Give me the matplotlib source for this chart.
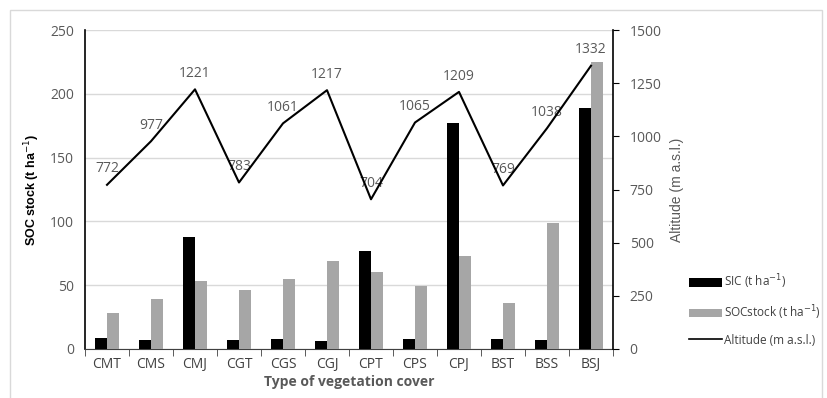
import numpy as np
import matplotlib
matplotlib.use("Agg")
import matplotlib.pyplot as plt
from matplotlib.patches import Rectangle, Patch
from matplotlib.lines import Line2D

# Data
covers = ["CMT", "CMS", "CMJ", "CGT", "CGS", "CGJ", "CPT", "CPS", "CPJ", "BST", "BSS", "BSJ"]
sic = [9, 7, 88, 7, 8, 6, 77, 8, 177, 8, 7, 189]
soc = [28, 39, 53, 46, 55, 69, 60, 49, 73, 36, 99, 225]
altitude = [772, 977, 1221, 783, 1061, 1217, 704, 1065, 1209, 769, 1038, 1332]

left_ticks = [0, 50, 100, 150, 200, 250]
right_ticks = [0, 250, 500, 750, 1000, 1250, 1500]

GRAY_TXT = "#595959"

plt.rcParams["font.family"] = ["Open Sans", "DejaVu Sans"]

fig = plt.figure(figsize=(8.28, 3.98), dpi=100)
# light frame round the chart area
fig.patches.append(Rectangle((10 / 828, -0.01), 812 / 828, 1 - 10 / 398 + 0.01,
                             transform=fig.transFigure, fill=False,
                             edgecolor="#d9d9d9", linewidth=1))

ax = fig.add_axes([85 / 828, 1 - 349 / 398, (613 - 85) / 828, (349 - 30) / 398])
x = np.arange(len(covers))
w = 0.27
ax.bar(x - 0.145, sic, width=w, color="black", zorder=3)
ax.bar(x + 0.145, soc, width=w, color="#a6a6a6", zorder=3)

ax.set_xlim(-0.5, len(covers) - 0.5)
ax.set_ylim(0, 250)
ax.set_yticks(left_ticks)
ax.yaxis.grid(True, color="#d9d9d9", linewidth=1, zorder=0)
ax.set_axisbelow(True)

ax.set_xticks(x)
ax.set_xticklabels(covers, fontsize=10, color="#404040")
ax.set_xticks(np.arange(-0.5, len(covers), 1), minor=True)
ax.tick_params(axis="x", which="major", length=0, pad=6)
ax.tick_params(axis="x", which="minor", length=5, direction="out", color="#404040")
ax.tick_params(axis="y", labelsize=10, labelcolor=GRAY_TXT, length=0, pad=8)

for s in ["top", "right"]:
    ax.spines[s].set_visible(False)
ax.spines["left"].set_color("black")
ax.spines["left"].set_linewidth(1.2)
ax.spines["bottom"].set_color("#404040")

ax.set_ylabel("SOC stock (t ha$^{-1}$)", fontsize=9, fontweight="bold",
              family=["Liberation Sans", "DejaVu Sans"], labelpad=6)
ax.set_xlabel("Type of vegetation cover", fontsize=10, fontweight="bold",
              color=GRAY_TXT, labelpad=2)

ax2 = ax.twinx()
ax2.plot(x, altitude, color="black", linewidth=1.5, zorder=4)
ax2.set_ylim(0, 1500)
ax2.set_yticks(right_ticks)
ax2.tick_params(axis="y", labelsize=10, labelcolor=GRAY_TXT, length=4,
                direction="out", color="black", pad=8)
for s in ["top", "left", "bottom"]:
    ax2.spines[s].set_visible(False)
ax2.spines["right"].set_color("black")
ax2.spines["right"].set_linewidth(1.2)
ax2.set_ylabel("Altitude (m a.s.l.)", fontsize=10, color=GRAY_TXT,
               family=["Liberation Sans", "DejaVu Sans"], labelpad=6)

for xi, a in zip(x, altitude):
    ax2.annotate(str(a), (xi, a), xytext=(0, 6), textcoords="offset points",
                 ha="center", va="bottom", fontsize=10, color=GRAY_TXT)

handles = [Patch(facecolor="black"), Patch(facecolor="#a6a6a6"),
           Line2D([0], [0], color="black", linewidth=1.2)]
labels = ["SIC (t ha$^{-1}$)", "SOCstock (t ha$^{-1}$)", "Altitude (m a.s.l.)"]
fig.legend(handles, labels, loc="upper left", bbox_to_anchor=(684 / 828, 1 - 268 / 398),
           frameon=False, fontsize=8.5, handlelength=2.8, handleheight=0.7,
           labelspacing=1.0, handletextpad=0.2, borderaxespad=0,
           labelcolor="#404040")

fig.savefig("out.png", dpi=100)
